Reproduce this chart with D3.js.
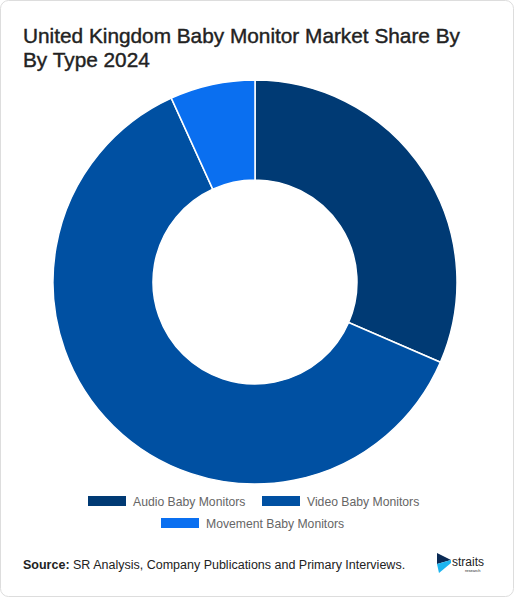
<!DOCTYPE html>
<html><head><meta charset="utf-8">
<script src="https://cdn.jsdelivr.net/npm/d3@7"></script>
<style>body{margin:0;background:#fff;font-family:"Liberation Sans",Arial,sans-serif}</style>
</head><body>
<svg id="c" width="514" height="597"></svg>
<script>
const categories = ["Audio Baby Monitors","Video Baby Monitors","Movement Baby Monitors"];
const values = [31.5, 61.7, 6.8];
const colors = ["#003a74","#0050a2","#0a6ff0"];
const svg = d3.select("#c");
svg.append("rect").attr("x",0.5).attr("y",0.5).attr("width",513).attr("height",596).attr("rx",8).attr("fill","#fff").attr("stroke","#ddd");
svg.append("text").attr("x",23).attr("y",43).attr("font-size",20.8).attr("fill","#222").attr("stroke","#222").attr("stroke-width",0.4).text("United Kingdom Baby Monitor Market Share By");
svg.append("text").attr("x",23).attr("y",67).attr("font-size",20.8).attr("fill","#222").attr("stroke","#222").attr("stroke-width",0.4).text("By Type 2024");
const pie = d3.pie().sort(null).value(d=>d)(values);
const arc = d3.arc().innerRadius(102).outerRadius(202);
const g = svg.append("g").attr("transform","translate(255,282)");
g.selectAll("path").data(pie).join("path").attr("d",arc).attr("fill",(d,i)=>colors[i]).attr("stroke","#fff").attr("stroke-width",1.5);
const leg=[[88,501],[262,501],[161,523]];
categories.forEach((c,i)=>{
  const l=svg.append("g").attr("transform",`translate(${leg[i][0]},${leg[i][1]})`);
  l.append("rect").attr("x",0).attr("y",-5).attr("width",38).attr("height",10).attr("fill",colors[i]);
  l.append("text").attr("x",45).attr("y",4.5).attr("font-size",12.2).attr("fill","#666").text(c);
});
const s=svg.append("text").attr("x",23).attr("y",569).attr("font-size",12.5).attr("fill","#222");
s.append("tspan").attr("font-weight",700).text("Source:");
s.append("tspan").text(" SR Analysis, Company Publications and Primary Interviews.");
const lg=svg.append("g").attr("transform","translate(437,553)");
lg.append("path").attr("d","M0,0 L14,7 L0,11 Z").attr("fill","#0a2a55");
lg.append("path").attr("d","M0,11 L14,7 L14,10 L2,20 Z").attr("fill","#1cb5f0");
lg.append("text").attr("x",15).attr("y",13).attr("font-size",12).attr("fill","#222").text("straits");
lg.append("text").attr("x",28).attr("y",19).attr("font-size",4).attr("fill","#222").text("research");
</script></body></html>
